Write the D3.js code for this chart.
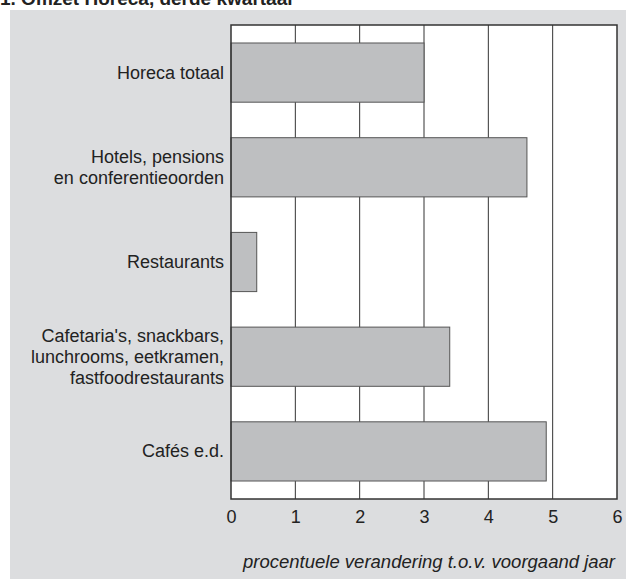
<!DOCTYPE html>
<html>
<head>
<meta charset="utf-8">
<script src="https://cdn.jsdelivr.net/npm/d3@7"></script>
<style>
  body { margin: 0; background: #fff; }
  svg { display: block; font-family: "Liberation Sans", Arial, sans-serif; }
</style>
</head>
<body>
<div id="chart"></div>
<script>
const categories = [
  ["Horeca totaal"],
  ["Hotels, pensions", "en conferentieoorden"],
  ["Restaurants"],
  ["Cafetaria's, snackbars,", "lunchrooms, eetkramen,", "fastfoodrestaurants"],
  ["Cafés e.d."]
];
const values = [3.0, 4.6, 0.4, 3.4, 4.9];
const tickValues = [0, 1, 2, 3, 4, 5, 6];

const width = 626, height = 579;
const plot = { left: 231, right: 617, top: 25, bottom: 499 };
const fontFamily = "'Liberation Sans', Arial, sans-serif";

const svg = d3.select("#chart").append("svg")
  .attr("width", width)
  .attr("height", height);

// grey panel
svg.append("rect")
  .attr("x", 10).attr("y", 10)
  .attr("width", width - 10).attr("height", height - 10)
  .attr("fill", "#dcdddf");

// title, cut at the top edge
svg.append("text")
  .attr("x", 0).attr("y", 5)
  .attr("font-size", 19)
  .attr("font-weight", "bold")
  .attr("fill", "#222")
  .text("1.  Omzet Horeca, derde kwartaal");

const x = d3.scaleLinear().domain([0, 6]).range([plot.left, plot.right]);
const y = d3.scaleBand()
  .domain(d3.range(categories.length))
  .range([plot.top, plot.bottom])
  .paddingInner(0.375)
  .paddingOuter(0.19);

// plot background
svg.append("rect")
  .attr("x", plot.left).attr("y", plot.top)
  .attr("width", plot.right - plot.left).attr("height", plot.bottom - plot.top)
  .attr("fill", "#fff");

// grid lines
svg.append("g")
  .selectAll("line")
  .data(tickValues.slice(1, -1))
  .join("line")
  .attr("x1", d => x(d)).attr("x2", d => x(d))
  .attr("y1", plot.top).attr("y2", plot.bottom)
  .attr("stroke", "#333")
  .attr("stroke-width", 1);

// bars
svg.append("g")
  .selectAll("rect")
  .data(values)
  .join("rect")
  .attr("x", x(0))
  .attr("y", (d, i) => y(i))
  .attr("width", d => x(d) - x(0))
  .attr("height", y.bandwidth())
  .attr("fill", "#bebfc1")
  .attr("stroke", "#555")
  .attr("stroke-width", 1);

// frame
svg.append("rect")
  .attr("x", plot.left).attr("y", plot.top)
  .attr("width", plot.right - plot.left).attr("height", plot.bottom - plot.top)
  .attr("fill", "none")
  .attr("stroke", "#333")
  .attr("stroke-width", 1.5);

// category labels
const lineH = 21;
svg.append("g")
  .selectAll("text")
  .data(categories)
  .join("text")
  .attr("text-anchor", "end")
  .attr("font-size", 18)
  .attr("fill", "#222")
  .each(function (lines, i) {
    const cy = y(i) + y.bandwidth() / 2;
    const y0 = cy - (lines.length - 1) * lineH / 2 + 6;
    d3.select(this).selectAll("tspan")
      .data(lines)
      .join("tspan")
      .attr("x", 224)
      .attr("y", (d, j) => y0 + j * lineH)
      .text(d => d);
  });

// x axis labels
const axis = d3.axisBottom(x)
  .tickValues(tickValues)
  .tickFormat(d3.format("d"))
  .tickSize(0)
  .tickPadding(11);
const ax = svg.append("g")
  .attr("transform", "translate(0," + plot.bottom + ")")
  .call(axis);
ax.attr("font-family", fontFamily).attr("font-size", 18);
ax.select(".domain").remove();
ax.selectAll("text").attr("fill", "#222");

// axis title
svg.append("text")
  .attr("x", 615).attr("y", 568)
  .attr("text-anchor", "end")
  .attr("font-size", 18.5)
  .attr("font-style", "italic")
  .attr("fill", "#222")
  .text("procentuele verandering t.o.v. voorgaand jaar");
</script>
</body>
</html>
